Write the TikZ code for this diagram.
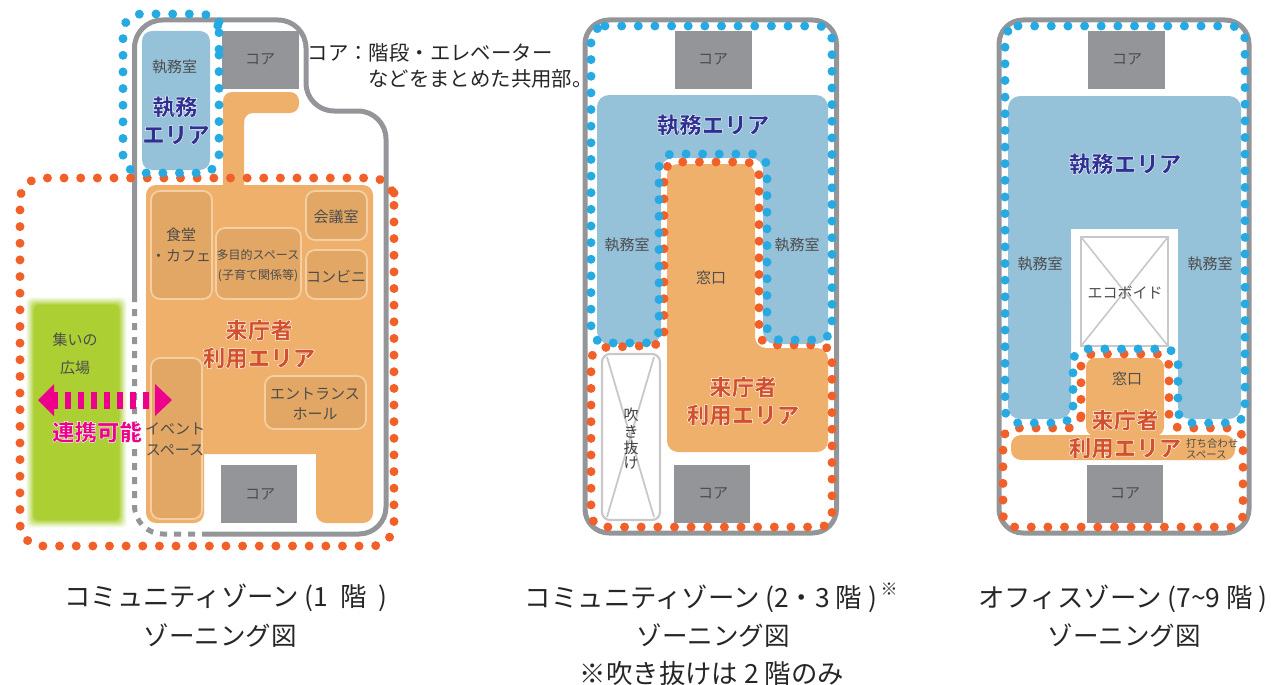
\documentclass[tikz,border=0pt]{standalone}
\usepackage{fontspec}
\setmainfont{Noto Sans CJK JP}
\definecolor{wallc}{HTML}{939598}
\definecolor{bluearea}{HTML}{95C1D9}
\definecolor{orangearea}{HTML}{EEB06B}
\definecolor{roomc}{HTML}{E2A764}
\definecolor{roomedge}{HTML}{F4CFA3}
\definecolor{dotblue}{HTML}{27AAE1}
\definecolor{dotorange}{HTML}{F26029}
\definecolor{greenc}{HTML}{ACD033}
\definecolor{magentac}{HTML}{EC008C}
\definecolor{navyc}{HTML}{2E3192}
\definecolor{redc}{HTML}{D2502C}
\definecolor{txtc}{HTML}{4D4D4D}
\definecolor{voidc}{HTML}{C8C8C8}
\newcommand{\halotext}[1]{\special{pdf:code 2 Tr 1 1 1 RG 0.45 w}#1\special{pdf:code 0 Tr}}
\newcommand{\fs}[1]{\fontsize{#1pt}{#1pt}\selectfont}
\tikzset{
  wallline/.style={draw=wallc,line width=5pt},
  dotline/.style={line width=9pt,line cap=round,dash pattern=on 0.01pt off 16.63pt},
  bluedots/.style={dotline,draw=dotblue},
  orangedots/.style={dotline,draw=dotorange},
  corebox/.style={fill=wallc},
  room/.style={fill=roomc,draw=roomedge,line width=1.8pt,rounded corners=9pt},
  voidbox/.style={draw=voidc,line width=2.2pt},
  small/.style={inner sep=0pt,text=txtc,font=\fs{15}},
  big/.style={inner sep=0pt,font=\fs{22.5}\bfseries},
  navy/.style={big,text=navyc},
  redt/.style={big,text=redc},
  caption/.style={inner sep=0pt,text=black!85,font=\fs{26.4}},
  subcaption/.style={caption,font=\fs{25.5}},
  note/.style={inner sep=0pt,text=black!85,font=\fs{20.4},anchor=west},
}
\begin{document}
\begin{tikzpicture}[x=1pt,y=-1pt]
\useasboundingbox (0,0) rectangle (1272,685);
% ---------- panel 1 ----------
\foreach \i/\p in {0/8,1/18,2/30,3/44,4/58,5/72,6/86,7/100}{
  \fill[greenc!\p!white,rounded corners=5pt] ({26+\i*1.1},{297+\i*1.1}) rectangle ({127-\i*1.1},{528-\i*1.1});
}
\draw[wallline] (134.5,300) -- (134.5,48) arc[start angle=180,end angle=270,radius=28] -- (278,20) arc[start angle=-90,end angle=0,radius=28] -- (306,83) arc[start angle=180,end angle=90,radius=28] -- (358,111) arc[start angle=-90,end angle=0,radius=28] -- (386,507) arc[start angle=0,end angle=90,radius=27] -- (209,534);
\draw[wallline,dash pattern=on 7pt off 7pt] (209,534) -- (163,534) arc[start angle=90,end angle=180,radius=28.5] -- (134.5,300);
\fill[bluearea,rounded corners=10pt] (142,31) rectangle (210,170);
\fill[corebox] (222,31) rectangle (299,89);
\fill[orangearea,rounded corners=9pt] (223,188) -- (223,92) -- (299,92) -- (299,113) -- (244,113) [sharp corners] -- (244,188) -- cycle;
\fill[orangearea,rounded corners=10pt] (146,185) -- (373,185) -- (373,523) -- (316,523) [sharp corners] -- (316,454) -- (204,454) [rounded corners=10pt] -- (204,523) -- (146,523) -- cycle;
\fill[corebox] (221,465) rectangle (297,523);
\draw[room] (151,191) rectangle (212,299);
\draw[room] (216,228) rectangle (301,299);
\draw[room] (306,191) rectangle (367,240);
\draw[room] (306,250) rectangle (367,299);
\draw[room] (151,358) rectangle (202,519);
\draw[room] (265,376) rectangle (366,429);
\draw[orangedots,rounded corners=22pt] (394,215) -- (394,178) -- (20,178) -- (20,546) -- (394,546) -- cycle;
\draw[bluedots,rounded corners=18pt] (219,37) -- (219,173) -- (123,173) -- (123,14) -- (219,14) -- cycle;
\node[small] (c1a) at (260,59) {コア};
\node[small] (c1b) at (260,494) {コア};
\node[small] (off1) at (174.5,67) {執務室};
\node[navy] (z1a) at (175,107) {\halotext{執務}};
\node[navy] (z1b) at (176,135) {\halotext{エリア}};
\node[small] (r1) at (181,235) {食堂};
\node[small] (r2) at (181,256) {・カフェ};
\node[small,font=\fs{12}] (r3) at (258,255) {多目的スペース};
\node[small,font=\fs{12}] (r4) at (258,276) {(子育て関係等)};
\node[small] (r5) at (336,217) {会議室};
\node[small] (r6) at (336,276) {コンビニ};
\node[small] (r7) at (315,394) {エントランス};
\node[small] (r8) at (315,414) {ホール};
\node[small] (r9) at (175,429) {イベント};
\node[small] (r10) at (175,450) {スペース};
\node[small] (g1) at (75,340) {集いの};
\node[small] (g2) at (75,368) {広場};
\node[redt] (v1a) at (259,330) {\halotext{来庁者}};
\node[redt] (v1b) at (259,358) {\halotext{利用エリア}};
% link arrow
\coordinate (linkL) at (54,400);
\coordinate (linkR) at (155,400);
\draw[magentac,line width=17pt,dash pattern=on 6pt off 7pt,dash phase=-11pt] (linkL) -- (linkR);
\fill[magentac] (38,400) -- (54,384) -- (54,416) -- cycle;
\fill[magentac] (172,400) -- (155,384) -- (155,416) -- cycle;
\node[inner sep=0pt,text=magentac,font=\fs{22.5}\bfseries] (link) at (97,432) {\halotext{連携可能}};
% note
\node[note] (n1) at (307.5,53) {コア：階段・エレベーター};
\node[note] (n2) at (368,79) {などをまとめた共用部。};
% ---------- panel 2 ----------
\draw[wallline,rounded corners=24pt] (585,20) rectangle (836.5,533);
\fill[corebox] (675,31) rectangle (752,89);
\fill[corebox] (674,465) rectangle (750,523);
\fill[bluearea,rounded corners=12pt] (597,95) -- (828,95) -- (828,344) -- (763,344) -- (763,158) -- (661,158) -- (661,344) -- (597,344) -- cycle;
\fill[orangearea,rounded corners=11pt] (667,164) -- (755,164) -- (755,348) -- (828,348) -- (828,452) -- (667,452) -- cycle;
\draw[voidbox,rounded corners=8pt] (602,354) rectangle (660,520);
\draw[voidc,line width=1.8pt] (607,357) -- (654,517) (654,357) -- (607,517);
\draw[orangedots,rounded corners=13pt] (664,345) -- (664,162) -- (759,162) -- (759,345) -- (832,345) -- (832,527) -- (591,527) -- (591,348) -- cycle;
\draw[bluedots,rounded corners=14pt] (591,26) -- (832,26) -- (832,340) -- (767,340) -- (767,154) -- (659,154) -- (659,343) -- (591,343) -- cycle;
\node[small] (c2a) at (713,59) {コア};
\node[small] (c2b) at (713,493) {コア};
\node[navy] (z2) at (713,125) {\halotext{執務エリア}};
\node[small] (off2) at (627,245) {執務室};
\node[small] (off3) at (797,245) {執務室};
\node[small] (w2) at (711,278) {窓口};
\node[redt] (v2a) at (743,387) {\halotext{来庁者}};
\node[redt] (v2b) at (743,415) {\halotext{利用エリア}};
\node[small,text=black!75] (b1) at (631,415) {吹};
\node[small,text=black!75] (b2) at (631,432) {き};
\node[small,text=black!75] (b3) at (631,448) {抜};
\node[small,text=black!75] (b4) at (631,463) {け};
% ---------- panel 3 ----------
\draw[wallline,rounded corners=24pt] (999,20) rectangle (1249,533);
\fill[corebox] (1088,31) rectangle (1165,89);
\fill[corebox] (1087,465) rectangle (1163,523);
\fill[bluearea,rounded corners=12pt] (1008,96) -- (1241,96) -- (1241,419) -- (1178,419) -- (1178,229) [sharp corners] -- (1071,229) [rounded corners=12pt] -- (1071,419) -- (1008,419) -- cycle;
\fill[white] (1071,229) rectangle (1178,300);
\draw[voidbox,line width=2.6pt] (1081,237) rectangle (1168,346);
\draw[voidc,line width=1.6pt] (1081,237) -- (1168,346) (1168,237) -- (1081,346);
\fill[orangearea,rounded corners=9pt] (1086,436) -- (1086,358) -- (1164,358) -- (1164,436) -- cycle;
\fill[orangearea,rounded corners=10pt] (1011,435) rectangle (1235,460);
\draw[orangedots,rounded corners=12pt] (1081,428) -- (1081,354) -- (1169,354) -- (1169,428) -- (1243,428) -- (1243,527) -- (1003,527) -- (1003,428) -- cycle;
\draw[bluedots,rounded corners=13pt] (1005,26) -- (1245,26) -- (1245,423) -- (1178,423) -- (1178,349) -- (1073,349) -- (1073,423) -- (1005,423) -- cycle;
\node[small] (c3a) at (1127,59) {コア};
\node[small] (c3b) at (1125,493) {コア};
\node[navy] (z3) at (1125,164) {\halotext{執務エリア}};
\node[small] (off4) at (1040,264) {執務室};
\node[small] (off5) at (1210,264) {執務室};
\node[small] (eco) at (1125,293) {エコボイド};
\node[small] (w3) at (1127,379) {窓口};
\node[redt] (v3a) at (1125,420) {\halotext{来庁者}};
\node[redt] (v3b) at (1125,448) {\halotext{利用エリア}};
\node[small,font=\fs{10.4},align=left,anchor=west] (m1) at (1186,449) {打ち合わせ\\[1pt]スペース};
% ---------- captions ----------
\node[caption] (t1a) at (226,598) {コミュニティゾーン (1\hspace{6pt} 階\hspace{6pt} )};
\node[subcaption] (t1b) at (220,636) {ゾーニング図};
\node[caption] (t2a) at (701,599) {コミュニティゾーン (2・3 階 )};
\node[caption,font=\fs{17}] (t2s) at (889,589) {※};
\node[subcaption] (t2b) at (713,636) {ゾーニング図};
\node[caption] (t2c) at (712,673) {※吹き抜けは 2 階のみ};
\node[caption] (t3a) at (1123,599) {オフィスゾーン (7\textasciitilde{}9 階 )};
\node[subcaption] (t3b) at (1124,636) {ゾーニング図};
\end{tikzpicture}
\end{document}
